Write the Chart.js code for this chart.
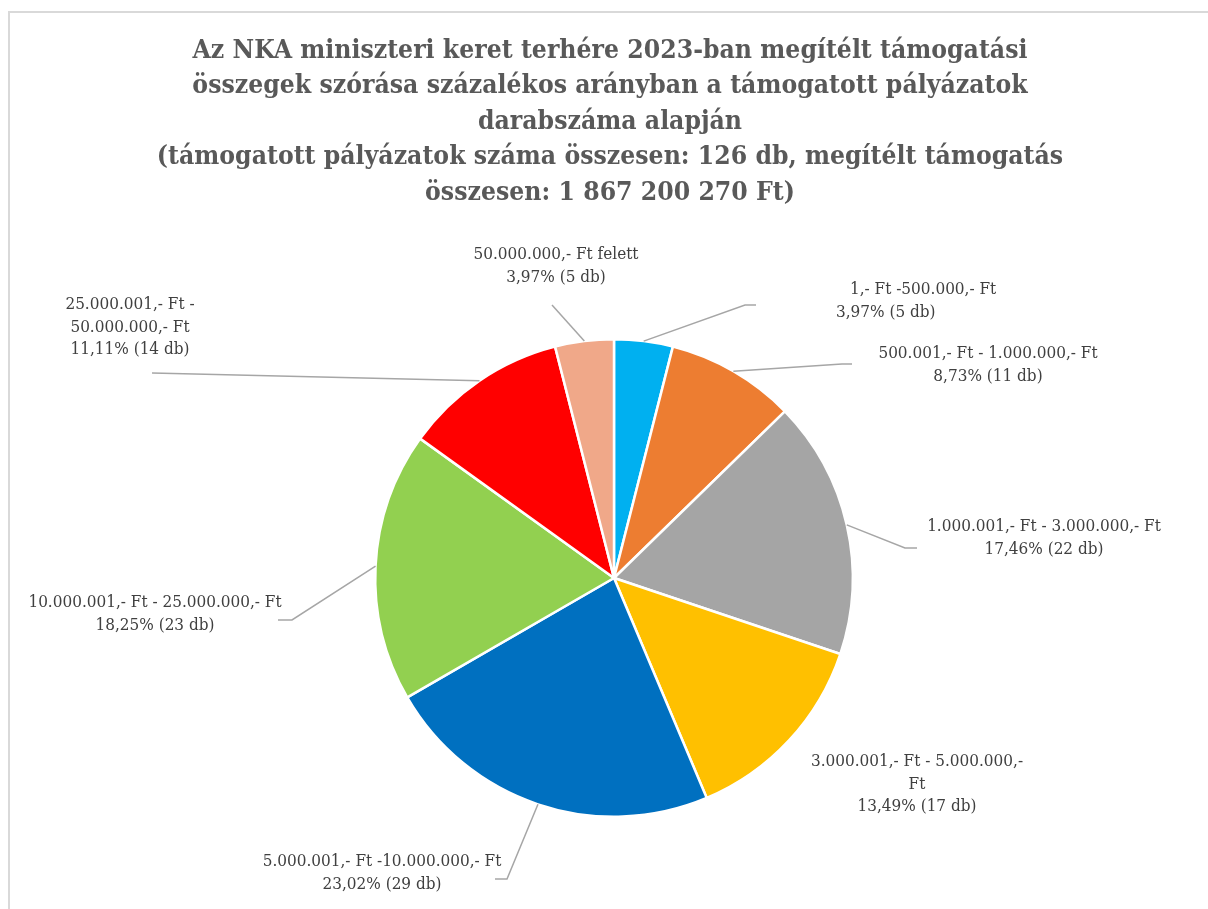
<!DOCTYPE html>
<html>
<head>
<meta charset="utf-8">
<script src="https://cdn.jsdelivr.net/npm/chart.js@4.4.0/dist/chart.umd.min.js"></script>
<style>
  html, body { margin: 0; padding: 0; background: #fff; }
  #wrap { width: 1208px; height: 909px; }
</style>
</head>
<body>
<div id="wrap"><canvas id="chart" width="1208" height="909"></canvas></div>
<script>
// data
const categories = [
  ['1,- Ft -500.000,- Ft'],
  ['500.001,- Ft - 1.000.000,- Ft'],
  ['1.000.001,- Ft - 3.000.000,- Ft'],
  ['3.000.001,- Ft - 5.000.000,-', 'Ft'],
  ['5.000.001,- Ft -10.000.000,- Ft'],
  ['10.000.001,- Ft - 25.000.000,- Ft'],
  ['25.000.001,- Ft -', '50.000.000,- Ft'],
  ['50.000.000,- Ft felett'],
];
const counts   = [5, 11, 22, 17, 29, 23, 14, 5];
const percents = ['3,97%', '8,73%', '17,46%', '13,49%', '23,02%', '18,25%', '11,11%', '3,97%'];
const colors   = ['#00B0F0', '#ED7D31', '#A5A5A5', '#FFC000', '#0070C0', '#92D050', '#FF0000', '#F0A889'];

const titleLines = [
  'Az NKA miniszteri keret terhére 2023-ban megítélt támogatási',
  'összegek szórása százalékos arányban a támogatott pályázatok',
  'darabszáma alapján',
  '(támogatott pályázatok száma összesen: 126 db, megítélt támogatás',
  'összesen: 1 867 200 270 Ft)',
];

// where the data labels sit (first line centre) and the bends of their leader lines
const labelLayout = [
  { x: 836,  y: 290, align: 'left', indent: 14, leader: [[745, 305], [756, 305]] },
  { x: 988,  y: 354, leader: [[842, 364], [852, 364]] },
  { x: 1044, y: 527, leader: [[905, 548], [917, 548]] },
  { x: 917,  y: 762, leader: null },
  { x: 382,  y: 862, leader: [[507, 879], [495, 879]] },
  { x: 155,  y: 603, leader: [[292, 620], [278, 620]] },
  { x: 130,  y: 305, leader: [[152, 373]] },
  { x: 556,  y: 255, leader: [[552, 305]] },
];

const FONT = '"DejaVu Serif Condensed", "DejaVu Serif", serif';

const decor = {
  id: 'decor',
  beforeDraw(chart) {
    const ctx = chart.ctx;
    ctx.save();
    ctx.fillStyle = '#fff';
    ctx.fillRect(0, 0, chart.width, chart.height);
    ctx.strokeStyle = '#D9D9D9';
    ctx.lineWidth = 2;
    ctx.strokeRect(9, 12, 1400, 1200);
    ctx.restore();
  },
  afterDatasetsDraw(chart) {
    const ctx = chart.ctx;
    const arcs = chart.getDatasetMeta(0).data;
    ctx.save();

    // title: 26px bold, squeezed so the first line is as wide as in the reference
    ctx.font = 'bold 26px ' + FONT;
    const sx = 835 / ctx.measureText(titleLines[0]).width;
    ctx.fillStyle = '#595959';
    ctx.textAlign = 'center';
    ctx.textBaseline = 'middle';
    titleLines.forEach((t, i) => {
      ctx.save();
      ctx.translate(610, 51 + i * 35.5);
      ctx.scale(sx, 1);
      ctx.fillText(t, 0, 0);
      ctx.restore();
    });

    // leader lines
    ctx.strokeStyle = '#A6A6A6';
    ctx.lineWidth = 1.5;
    arcs.forEach((arc, i) => {
      const lay = labelLayout[i];
      if (!lay.leader) return;
      const mid = (arc.startAngle + arc.endAngle) / 2;
      ctx.beginPath();
      ctx.moveTo(arc.x + Math.cos(mid) * arc.outerRadius, arc.y + Math.sin(mid) * arc.outerRadius);
      lay.leader.forEach(([x, y]) => ctx.lineTo(x, y));
      ctx.stroke();
    });

    // data labels
    ctx.font = '17px ' + FONT;
    ctx.fillStyle = '#404040';
    categories.forEach((cat, i) => {
      const lay = labelLayout[i];
      const lines = [...cat, `${percents[i]} (${counts[i]} db)`];
      ctx.textAlign = lay.align || 'center';
      lines.forEach((t, j) => {
        const dx = (lay.indent && j === 0) ? lay.indent : 0;
        ctx.fillText(t, lay.x + dx, lay.y + j * 22.5);
      });
    });
    ctx.restore();
  }
};

new Chart(document.getElementById('chart'), {
  type: 'pie',
  data: {
    labels: categories.map(c => c.join(' ')),
    datasets: [{
      data: counts,
      backgroundColor: colors,
      borderColor: '#fff',
      borderWidth: 2.5,
    }],
  },
  options: {
    responsive: false,
    animation: false,
    devicePixelRatio: 1,
    layout: { padding: { top: 338, bottom: 91, left: 374, right: 354 } },
    plugins: {
      legend: { display: false },
      title: { display: false },
      tooltip: { enabled: false },
    },
  },
  plugins: [decor],
});
</script>
</body>
</html>
